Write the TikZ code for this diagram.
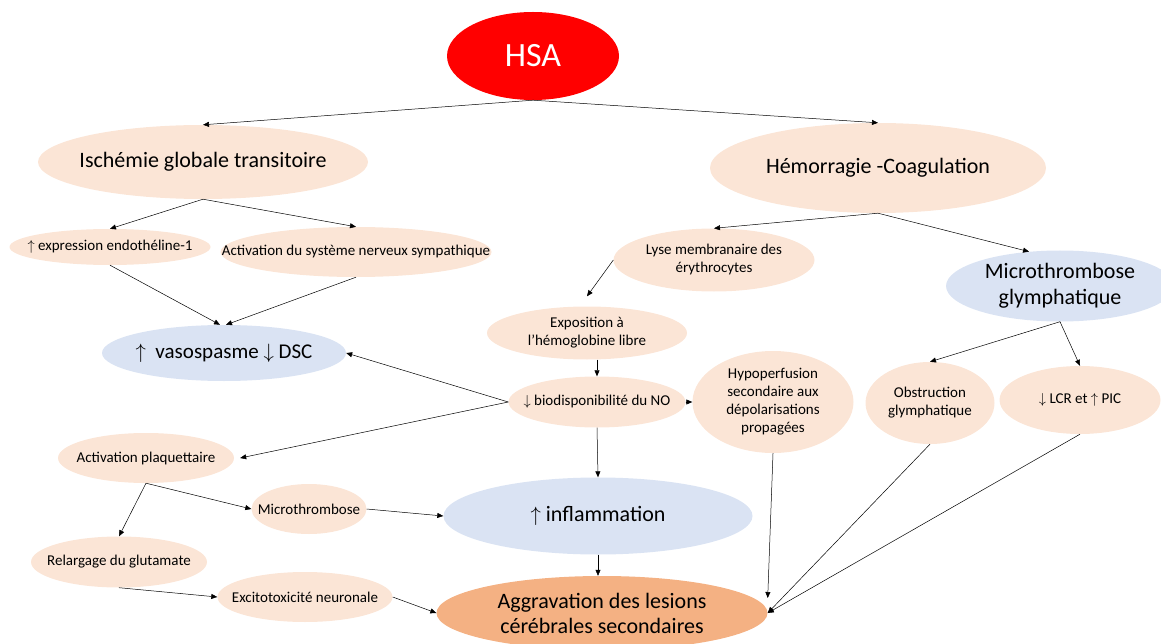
\documentclass[tikz,border=0pt]{standalone}
\usepackage{fontspec}
\setmainfont{Carlito}
\usetikzlibrary{shapes.geometric,arrows.meta}
\definecolor{hsared}{HTML}{FF0000}
\definecolor{causepeach}{HTML}{FBE5D6}
\definecolor{effectblue}{HTML}{DAE3F3}
\definecolor{lesionorange}{HTML}{F4B183}

\begin{document}
\begin{tikzpicture}[x=1pt,y=-1pt,
    oval/.style={ellipse, inner xsep=-60pt, inner ysep=-12pt, align=center},
    cause/.style={oval, fill=causepeach, font=\fontsize{15}{18}\selectfont},
    bigcause/.style={cause, font=\fontsize{22}{26}\selectfont},
    effect/.style={oval, fill=effectblue, font=\fontsize{22}{26}\selectfont},
    arr/.style={-{Triangle[length=6pt,width=5pt]}, line width=0.5pt}]
    \useasboundingbox (0,0) rectangle (1161,644);

    % Top: the haemorrhage and its two branches
    \node[oval, fill=hsared, minimum width=172pt, minimum height=88pt, text=white, font=\fontsize{34}{40}\selectfont] (hsa) at (533,56) {HSA};
    \node[bigcause, minimum width=330pt, minimum height=74pt] (isch) at (203,162) {Ischémie globale transitoire};
    \node[bigcause, minimum width=336pt, minimum height=90pt] (hemo) at (878,168) {Hémorragie -Coagulation};

    % Left branch
    \node[cause, minimum width=201pt, minimum height=36pt] (endo) at (110,247) {$\uparrow$ expression endothéline-1};
    \node[cause, minimum width=271pt, minimum height=50pt] (symp) at (356,252) {Activation du système nerveux sympathique};
    \node[effect, minimum width=244pt, minimum height=56pt, font=\fontsize{21}{24}\selectfont] (vaso) at (224,353) {$\uparrow$\ \ vasospasme $\downarrow$ DSC};
    \node[cause, minimum width=176pt, minimum height=50pt] (plaq) at (146,458) {Activation plaquettaire};
    \node[cause, minimum width=115pt, minimum height=50pt] (micro) at (309,509) {Microthrombose};
    \node[cause, minimum width=176pt, minimum height=51pt] (relarg) at (119,562) {Relargage du glutamate};
    \node[cause, minimum width=175pt, minimum height=50pt] (excito) at (305,597) {Excitotoxicité neuronale};

    % Middle column
    \node[cause, minimum width=201pt, minimum height=63pt] (lyse) at (714,260) {Lyse membranaire des\\érythrocytes};
    \node[cause, minimum width=200pt, minimum height=53pt] (expo) at (587,333) {Exposition à\\l’hémoglobine libre};
    \node[cause, minimum width=177pt, minimum height=51pt] (bio) at (597,402) {$\downarrow$ biodisponibilité du NO};
    \node[effect, minimum width=309pt, minimum height=77pt] (infl) at (598,516) {$\uparrow$ inflammation};
    \node[oval, fill=lesionorange, minimum width=331pt, minimum height=74pt, font=\fontsize{22}{25}\selectfont] (aggr) at (602,613) {Aggravation des lesions\\cérébrales secondaires};
    \node[cause, minimum width=161pt, minimum height=102pt] (hypo) at (773,402) {Hypoperfusion\\secondaire aux\\dépolarisations\\propagées};

    % Right branch
    \node[effect, minimum width=228pt, minimum height=71pt] (mg) at (1060,286) {Microthrombose\\glymphatique};
    \node[cause, minimum width=129pt, minimum height=82pt] (obst) at (930,403) {Obstruction\\glymphatique};
    \node[cause, minimum width=161pt, minimum height=68pt] (lcr) at (1080,400) {$\downarrow$ LCR et $\uparrow$ PIC};

    % Connectors
    \draw[arr] (hsa.south) -- (isch.north);
    \draw[arr] (hsa.south) -- (hemo.north);
    \draw[arr] (isch.south) -- (endo.north);
    \draw[arr] (isch.south) -- (symp.north);
    \draw[arr] (endo.south) -- ([xshift=-4pt]vaso.north);
    \draw[arr] (symp.south) -- ([xshift=2pt]vaso.north);
    \draw[arr] (hemo.south) -- (lyse.north);
    \draw[arr] (hemo.south) -- (mg.132);
    \draw[arr] (lyse.west) -- ([yshift=10pt]expo.north);
    \draw[arr] (bio.north |- expo.south) -- (bio.north);
    \draw[arr] (bio.west) -- (vaso.east);
    \draw[arr] (bio.west) -- ([xshift=6pt]plaq.east);
    \draw[arr] (bio.south) -- (infl.north);
    \draw[arr] (bio.east) -- (hypo.west);
    \draw[arr] (plaq.south) -- (relarg.north);
    \draw[arr] (plaq.south) -- (micro.west);
    \draw[arr] (micro.east) -- (infl.west);
    \draw[arr] (relarg.south) -- (excito.west);
    \draw[arr] (excito.east) -- (aggr.west);
    \draw[arr] (infl.south) -- (infl.south |- aggr.north);
    \draw[arr] (hypo.south) -- ([yshift=15pt]aggr.east);
    \draw[arr] (mg.south) -- (obst.north);
    \draw[arr] (mg.south) -- (lcr.north);
    \draw[arr] (obst.south) -- (aggr.east);
    \draw[arr] (lcr.south) -- (aggr.east);
\end{tikzpicture}
\end{document}
